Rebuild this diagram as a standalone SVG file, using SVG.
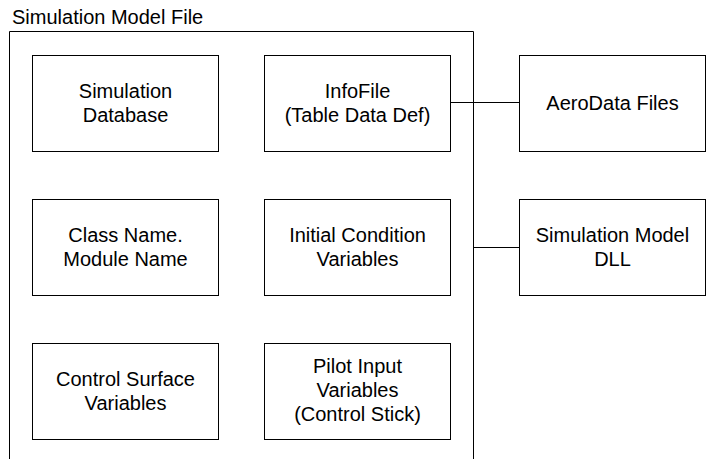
<svg xmlns="http://www.w3.org/2000/svg" width="710" height="459" viewBox="0 0 710 459">
<style>
.box{fill:#fff;stroke:#000;stroke-width:1}
.con{fill:none;stroke:#000;stroke-width:1}
text{font-family:"Liberation Sans",Arial,sans-serif;font-size:20px;fill:#000}
.c{text-anchor:middle}
</style>
<rect width="710" height="459" fill="#fff"/>
<g id="container">
<path class="box" d="M9.5,470 V31.5 H473.5 V470" fill="none"/>
<text x="12" y="24">Simulation Model File</text>
</g>
<g id="connectors">
<line class="con" x1="450.5" y1="102.5" x2="519.5" y2="102.5"/>
<line class="con" x1="473.5" y1="247.5" x2="519.5" y2="247.5"/>
</g>
<g id="simdb">
<rect class="box" x="32.5" y="55.5" width="186" height="96"/>
<text class="c" x="125.5" y="98">Simulation</text>
<text class="c" x="125.5" y="122">Database</text>
</g>
<g id="infofile">
<rect class="box" x="264.5" y="55.5" width="186" height="96"/>
<text class="c" x="357.5" y="98">InfoFile</text>
<text class="c" x="357.5" y="122">(Table Data Def)</text>
</g>
<g id="aerodata">
<rect class="box" x="519.5" y="55.5" width="186" height="96"/>
<text class="c" x="612.5" y="110">AeroData Files</text>
</g>
<g id="classname">
<rect class="box" x="32.5" y="199.5" width="186" height="96"/>
<text class="c" x="125.5" y="242">Class Name.</text>
<text class="c" x="125.5" y="266">Module Name</text>
</g>
<g id="initcond">
<rect class="box" x="264.5" y="199.5" width="186" height="96"/>
<text class="c" x="357.5" y="242">Initial Condition</text>
<text class="c" x="357.5" y="266">Variables</text>
</g>
<g id="simdll">
<rect class="box" x="519.5" y="199.5" width="186" height="96"/>
<text class="c" x="612.5" y="242">Simulation Model</text>
<text class="c" x="612.5" y="266">DLL</text>
</g>
<g id="ctrlsurf">
<rect class="box" x="32.5" y="343.5" width="186" height="96"/>
<text class="c" x="125.5" y="386">Control Surface</text>
<text class="c" x="125.5" y="410">Variables</text>
</g>
<g id="pilot">
<rect class="box" x="264.5" y="343.5" width="186" height="96"/>
<text class="c" x="357.5" y="373">Pilot Input</text>
<text class="c" x="357.5" y="397">Variables</text>
<text class="c" x="357.5" y="421">(Control Stick)</text>
</g>
</svg>
